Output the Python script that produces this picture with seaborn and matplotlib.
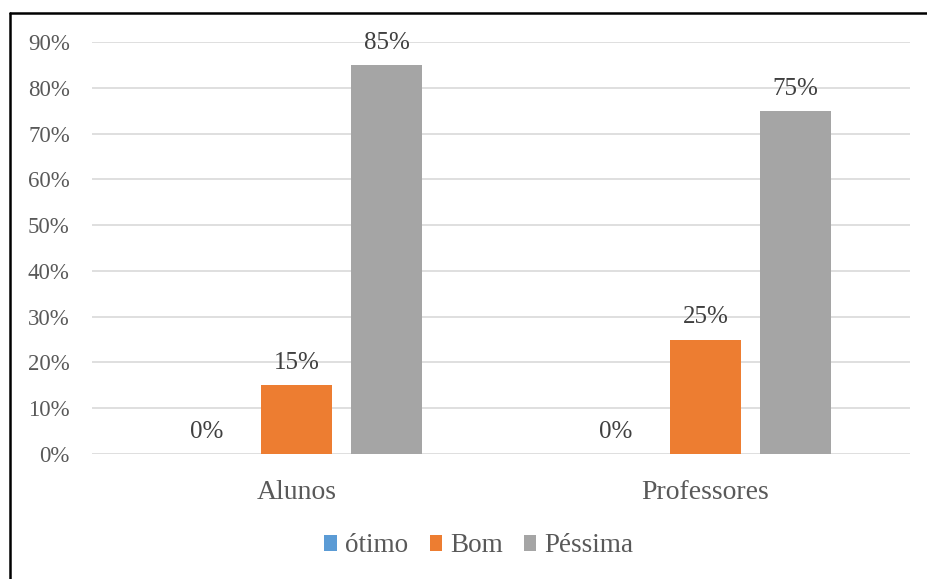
import matplotlib
matplotlib.use("Agg")
import matplotlib.pyplot as plt
import seaborn as sns
import pandas as pd
from matplotlib.lines import Line2D
from matplotlib.patches import Patch

categories = ["Alunos", "Professores"]
series = ["ótimo", "Bom", "Péssima"]
otimo = [0, 0]
bom = [15, 25]
pessima = [85, 75]
colors = ["#5B9BD5", "#ED7D31", "#A5A5A5"]
yticks = [0, 10, 20, 30, 40, 50, 60, 70, 80, 90]

rows = []
for name, vals in zip(series, [otimo, bom, pessima]):
    for c, v in zip(categories, vals):
        rows.append({"cat": c, "serie": name, "val": v})
df = pd.DataFrame(rows)

sns.set_theme(style="white")
plt.rcParams["font.family"] = ["Liberation Serif", "DejaVu Serif"]

fig = plt.figure(figsize=(9.27, 5.79), dpi=100)
ax = fig.add_axes([92/927, 1-454/579, (910-92)/927, (454-42)/579])

sns.barplot(data=df, x="cat", y="val", hue="serie", hue_order=series,
            palette=colors, width=0.66, gap=0.21, ax=ax, legend=False,
            saturation=1, errorbar=None, linewidth=0)

for cont in ax.containers:
    ax.bar_label(cont, labels=[f"{v:.0f}%" for v in cont.datavalues],
                 padding=8, fontsize=18, color="#404040")

ax.set_xlim(-0.5, 1.5)
ax.set_ylim(0, 90)
ax.set_yticks(yticks)
ax.set_yticklabels([f"{t}%" for t in yticks])
ax.grid(axis="y", color="#D9D9D9", linewidth=1.2)
ax.set_axisbelow(True)
for s in ax.spines.values():
    s.set_visible(False)
ax.tick_params(axis="y", length=0, pad=16, labelsize=16.5, labelcolor="#595959")
ax.tick_params(axis="x", length=0, pad=19, labelsize=20, labelcolor="#595959")
ax.set_xlabel("")
ax.set_ylabel("")

handles = [Patch(facecolor=c, edgecolor="none") for c in colors]
fig.legend(handles, series, loc="center", bbox_to_anchor=(479/927, 1-546/579),
           ncol=3, frameon=False, fontsize=19.5, labelcolor="#595959",
           handlelength=0.45, handleheight=0.5, handletextpad=0.3, columnspacing=0.8)

fig.add_artist(Line2D([9.5/927, 9.5/927], [0, 1-12.5/579], transform=fig.transFigure,
                      color="black", linewidth=1.8))
fig.add_artist(Line2D([9.5/927, 1], [1-12.5/579, 1-12.5/579], transform=fig.transFigure,
                      color="black", linewidth=1.8))

fig.savefig("out.png", dpi=100)
